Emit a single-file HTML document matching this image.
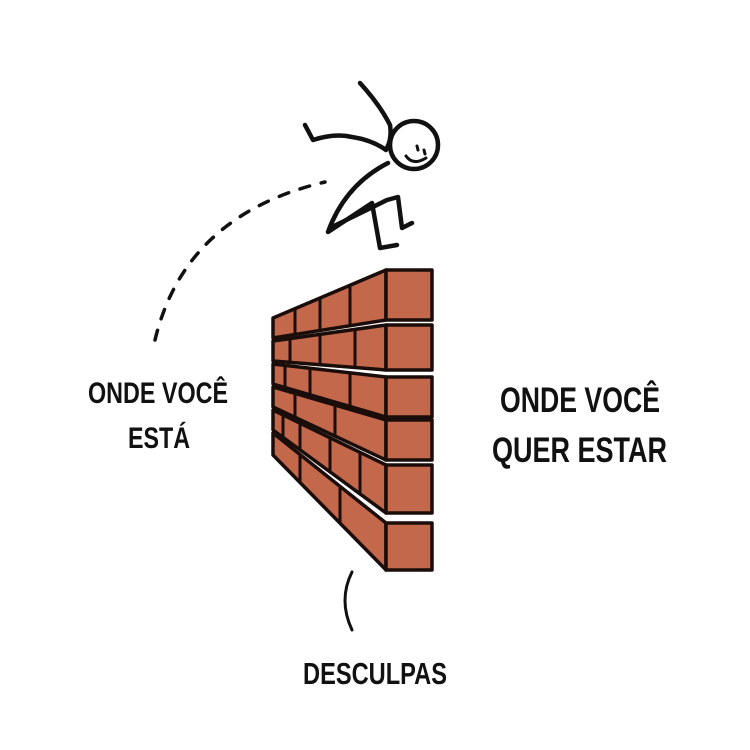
<!DOCTYPE html>
<html><head><meta charset="utf-8"><style>
html,body{margin:0;padding:0;background:#fff;width:750px;height:750px;overflow:hidden}
svg{display:block}
text{font-family:"Liberation Sans",sans-serif;font-weight:bold;fill:#111}
</style></head><body>
<svg width="750" height="750" viewBox="0 0 750 750">
<rect width="750" height="750" fill="#fff"/>
<path d="M155,340 Q185,215 325,182" fill="none" stroke="#111" stroke-width="3.5" stroke-dasharray="10,12" stroke-linecap="round"/>
<g fill="none" stroke="#111" stroke-width="4.5" stroke-linecap="round" stroke-linejoin="round">
<circle cx="414" cy="145" r="24"/>
<path d="M360,83 Q380,105 390,125 Q392,138 387,148"/>
<path d="M305,125 L313,140 Q335,133 352,137 Q372,140 386,150"/>
<path d="M388,163 Q345,185 328,232 L372,203 L380,248 L397,245"/>
<path d="M334,226 L387,200 L398,197 L402,228 L412,223"/>
<path d="M406,156 Q413,166 426,158" stroke-width="3"/>
<path d="M417,146 l1,4 M424,150 l1,4" stroke-width="3"/>
</g>
<g fill="#c4684c" stroke="#1a0d0a" stroke-width="3.5" stroke-linejoin="round">
<polygon points="273,318 386,270 386,320 273,338"/>
<polygon points="273,341 386,325 386,370 273,361"/>
<polygon points="273,364 386,377 386,417 273,384"/>
<polygon points="273,387 386,420 386,460 273,407"/>
<polygon points="273,410 386,465 386,513 273,430"/>
<polygon points="273,433 386,523 386,570 273,455"/>
<rect x="386" y="270" width="46" height="50"/>
<rect x="386" y="325" width="46" height="45"/>
<rect x="386" y="377" width="46" height="40"/>
<rect x="386" y="420" width="46" height="40"/>
<rect x="386" y="465" width="46" height="48"/>
<rect x="386" y="523" width="46" height="47"/>
</g>
<g stroke="#1a0d0a" stroke-width="3" fill="none">
<path d="M295,308.6 L295,334.5 M320,297.9 L320,330.4 M350,285 L350,325.6"/>
<path d="M290,338.6 L290,362.4 M320,334.3 L320,364.8 M355,329.3 L355,367.6"/>
<path d="M285,365.4 L285,387.5 M310,368.3 L310,394.9 M350,373 L350,406.7"/>
<path d="M295,393.5 L295,417.4 M335,405.3 L335,436.4"/>
<path d="M283,414.9 L283,437.4 M300,423.3 L300,450 M330,438 L330,472.2 M360,452.7 L360,494.5"/>
<path d="M300,454.7 L300,482.7 M340,486.8 L340,523.8"/>
</g>
<path d="M352,572 Q338,600 352,630" fill="none" stroke="#111" stroke-width="3" stroke-linecap="round"/>
<text x="88" y="403" font-size="30" textLength="140" lengthAdjust="spacingAndGlyphs">ONDE VOCÊ</text>
<text x="128" y="448" font-size="30" textLength="62" lengthAdjust="spacingAndGlyphs">ESTÁ</text>
<text x="500" y="412" font-size="35" textLength="160" lengthAdjust="spacingAndGlyphs">ONDE VOCÊ</text>
<text x="492" y="462" font-size="35" textLength="175" lengthAdjust="spacingAndGlyphs">QUER ESTAR</text>
<text x="303" y="684" font-size="31" textLength="144" lengthAdjust="spacingAndGlyphs">DESCULPAS</text>
</svg>
</body></html>
